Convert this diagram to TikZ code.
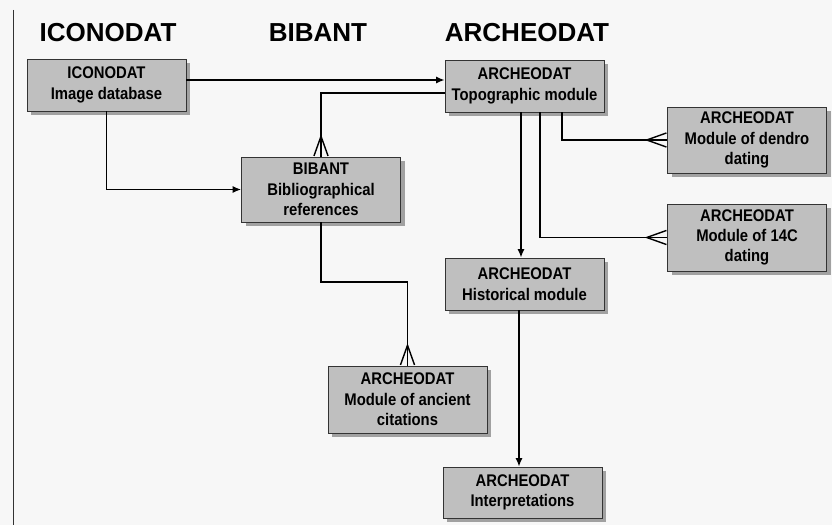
\documentclass[tikz,border=0pt]{standalone}
\usepackage{fontspec}
\newfontfamily\headfont{Liberation Sans}
\newfontfamily\boxfont[FakeStretch=0.88]{Liberation Sans}
\usetikzlibrary{arrows.meta,shadows}
\tikzset{
  module/.style={draw=black!80,fill=black!25,line width=.5pt,
    drop shadow={shadow xshift=3pt,shadow yshift=-3pt,fill=black!45,opacity=.8},
    align=center,inner sep=1pt,minimum width=3.975cm,
    font=\boxfont\bfseries\fontsize{12}{14.5}\selectfont},
  title/.style={font=\headfont\bfseries\fontsize{18.5}{20}\selectfont},
  arr/.style={line width=1.1pt,-{Latex[length=6pt,width=5pt]}},
  crow/.style={line width=1.1pt,
    postaction={draw,-{Straight Barb[reversed,length=14pt,width=10pt,line width=1pt]}}}
}
\begin{document}
\begin{tikzpicture}[x=0.025cm,y=-0.025cm]
\useasboundingbox[fill=black!3] (0,0) rectangle (832,525);
\draw[line width=.6pt,black!80] (13,10)--(13,525);
% headings
\node[title] (hicono) at (108,33) {ICONODAT};
\node[title] (hbib) at (318,33) {BIBANT};
\node[title] (harch) at (527,33) {ARCHEODAT};
% modules
\node[module,minimum height=1.3cm] (icono) at (106.5,85) {ICONODAT\\Image database};
\node[module,minimum height=1.3cm] (topo) at (524.5,86) {ARCHEODAT\\Topographic module};
\node[module,minimum height=1.625cm] (bib) at (321,189.5) {BIBANT\\Bibliographical\\references};
\node[module,minimum height=1.65cm] (dendro) at (747,140) {ARCHEODAT\\Module of dendro\\dating};
\node[module,minimum height=1.675cm] (c14) at (747,237.5) {ARCHEODAT\\Module of 14C\\dating};
\node[module,minimum height=1.3cm] (hist) at (524.5,284) {ARCHEODAT\\Historical module};
\node[module,minimum height=1.675cm] (anc) at (407.5,399.5) {ARCHEODAT\\Module of ancient\\citations};
\node[module,minimum height=1.275cm] (interp) at (522.5,492.5) {ARCHEODAT\\Interpretations};
% links
\draw[arr] (icono.east |- 0,80) -- (topo.west |- 0,80);
\draw[crow] (topo.west |- 0,93) -| (bib.north);
\draw[arr] (icono.south) |- (bib.west);
\draw[crow] (bib.south) |- (anc.north |- 0,282) -- (anc.north);
\draw[arr] (topo.south -| 521,0) -- (hist.north -| 521,0);
\draw[crow] (topo.south -| 540,0) |- (c14.west);
\draw[crow] (topo.south -| 562,0) |- (dendro.west);
\draw[arr] (hist.south -| 519,0) -- (interp.north -| 519,0);
\end{tikzpicture}
\end{document}
